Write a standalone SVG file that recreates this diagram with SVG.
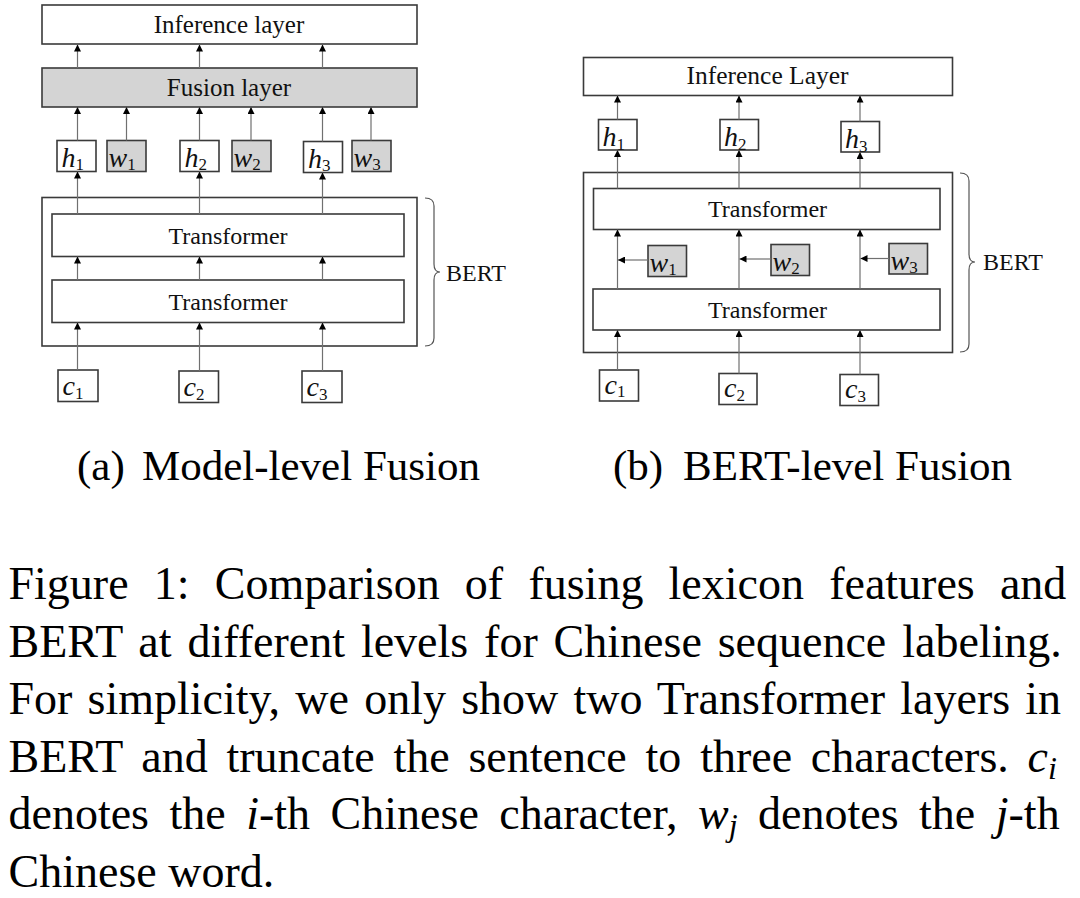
<svg xmlns="http://www.w3.org/2000/svg" width="1080" height="898" viewBox="0 0 1080 898">
<style>
.box{fill:#fff;stroke:#3a3a3a;stroke-width:1.6}
.gbox{fill:#d4d4d4;stroke:#3a3a3a;stroke-width:1.6}
.lbl{font-family:"Liberation Serif","Times New Roman",serif;font-size:24px;fill:#111;text-anchor:middle}
.math{font-family:"Liberation Serif","Times New Roman",serif;font-size:28px;font-style:italic;fill:#111}
.sub{font-size:17px;font-style:normal}
.conn line{stroke:#707070;stroke-width:1.2;marker-end:url(#ah)}
.brace{fill:none;stroke:#555;stroke-width:1.2}
.cap{font-family:"Liberation Serif","Times New Roman",serif;font-size:43px;fill:#000}
.fig{font-family:"Liberation Serif","Times New Roman",serif;font-size:46px;fill:#000}
.it{font-style:italic}
</style>
<defs>
<marker id="ah" viewBox="0 0 8 8" refX="8" refY="4" markerWidth="8" markerHeight="7" markerUnits="userSpaceOnUse" orient="auto">
<path d="M0,0 L8,4 L0,8 z" fill="#000"/>
</marker>
</defs>

<!-- Panel (a) -->
<g id="a-inference"><rect class="box" x="42" y="5" width="375" height="39"/><text class="lbl" x="229" y="33" style="font-size:25px">Inference layer</text></g>
<g id="a-fusion"><rect class="gbox" x="42" y="68" width="375" height="39"/><text class="lbl" x="229" y="96" style="font-size:25px">Fusion layer</text></g>
<g id="a-h1"><rect class="box" x="57" y="140.5" width="39" height="31"/><text class="math" x="61.5" y="166.5">h<tspan class="sub" dy="3.5">1</tspan></text></g>
<g id="a-w1"><rect class="gbox" x="107" y="140.5" width="39" height="31"/><text class="math" x="108.5" y="166.5">w<tspan class="sub" dy="3.5">1</tspan></text></g>
<g id="a-h2"><rect class="box" x="180" y="140.5" width="39" height="31"/><text class="math" x="184.5" y="166.5">h<tspan class="sub" dy="3.5">2</tspan></text></g>
<g id="a-w2"><rect class="gbox" x="232" y="140.5" width="39" height="31"/><text class="math" x="233.5" y="166.5">w<tspan class="sub" dy="3.5">2</tspan></text></g>
<g id="a-h3"><rect class="box" x="303.5" y="141.5" width="39" height="31"/><text class="math" x="308" y="167.5">h<tspan class="sub" dy="3.5">3</tspan></text></g>
<g id="a-w3"><rect class="gbox" x="352" y="140.5" width="39" height="31"/><text class="math" x="353.5" y="166.5">w<tspan class="sub" dy="3.5">3</tspan></text></g>
<g id="a-bert"><rect class="box" x="42" y="197.5" width="375" height="148.5"/></g>
<g id="a-trans2"><rect class="box" x="52" y="214" width="352" height="42.5"/><text class="lbl" x="228" y="244">Transformer</text></g>
<g id="a-trans1"><rect class="box" x="52" y="280" width="352" height="42.5"/><text class="lbl" x="228" y="310">Transformer</text></g>
<g id="a-c1"><rect class="box" x="58" y="370" width="40" height="31.5"/><text class="math" x="62.5" y="395">c<tspan class="sub" dy="3.5">1</tspan></text></g>
<g id="a-c2"><rect class="box" x="179" y="371" width="39.5" height="31.5"/><text class="math" x="183.5" y="396">c<tspan class="sub" dy="3.5">2</tspan></text></g>
<g id="a-c3"><rect class="box" x="302" y="371" width="40" height="31.5"/><text class="math" x="306.5" y="396">c<tspan class="sub" dy="3.5">3</tspan></text></g>
<g id="a-bert-label">
<path class="brace" d="M425,198 Q434,198 434,206 L434,264 Q434,272 440,272 Q434,272 434,280 L434,338 Q434,346 425,346"/>
<text class="lbl" x="446" y="281" style="text-anchor:start">BERT</text>
</g>

<!-- Panel (b) -->
<g id="b-inference"><rect class="box" x="583.5" y="57.5" width="369" height="38"/><text class="lbl" x="767.5" y="84" style="font-size:25.5px">Inference Layer</text></g>
<g id="b-h1"><rect class="box" x="598.5" y="119.5" width="38.5" height="30.5"/><text class="math" x="602.5" y="146">h<tspan class="sub" dy="3.5">1</tspan></text></g>
<g id="b-h2"><rect class="box" x="720" y="119.5" width="38.5" height="30.5"/><text class="math" x="724" y="146">h<tspan class="sub" dy="3.5">2</tspan></text></g>
<g id="b-h3"><rect class="box" x="841" y="121.5" width="38.5" height="30.5"/><text class="math" x="845" y="148">h<tspan class="sub" dy="3.5">3</tspan></text></g>
<g id="b-bert"><rect class="box" x="583.5" y="172.5" width="369" height="180"/></g>
<g id="b-trans2"><rect class="box" x="593.5" y="188.5" width="346.5" height="41"/><text class="lbl" x="767.5" y="217">Transformer</text></g>
<g id="b-w1"><rect class="gbox" x="648" y="245.5" width="38.5" height="31"/><text class="math" x="649.5" y="271.5">w<tspan class="sub" dy="3.5">1</tspan></text></g>
<g id="b-w2"><rect class="gbox" x="771" y="244.5" width="38.5" height="31"/><text class="math" x="772.5" y="270.5">w<tspan class="sub" dy="3.5">2</tspan></text></g>
<g id="b-w3"><rect class="gbox" x="889" y="243.5" width="38.5" height="30.5"/><text class="math" x="890.5" y="269.5">w<tspan class="sub" dy="3.5">3</tspan></text></g>
<g id="b-trans1"><rect class="box" x="593" y="289" width="347" height="41"/><text class="lbl" x="767.5" y="318">Transformer</text></g>
<g id="b-c1"><rect class="box" x="599.5" y="370" width="39" height="31"/><text class="math" x="604.5" y="393.5">c<tspan class="sub" dy="3.5">1</tspan></text></g>
<g id="b-c2"><rect class="box" x="719" y="373.5" width="38" height="31"/><text class="math" x="724" y="397">c<tspan class="sub" dy="3.5">2</tspan></text></g>
<g id="b-c3"><rect class="box" x="840" y="374.5" width="38.5" height="31"/><text class="math" x="845" y="398">c<tspan class="sub" dy="3.5">3</tspan></text></g>
<g id="b-bert-label">
<path class="brace" d="M960,173 Q969,173 969,181 L969,254 Q969,262 975,262 Q969,262 969,270 L969,344 Q969,352 960,352"/>
<text class="lbl" x="983" y="270" style="text-anchor:start">BERT</text>
</g>

<!-- Connectors -->
<g id="connectors" class="conn">
<line x1="77.5" y1="68" x2="77.5" y2="44.5"/>
<line x1="199.5" y1="68" x2="199.5" y2="44.5"/>
<line x1="322.5" y1="68" x2="322.5" y2="44.5"/>
<line x1="77.5" y1="140.5" x2="77.5" y2="107"/>
<line x1="126.5" y1="140.5" x2="126.5" y2="107"/>
<line x1="199.5" y1="140.5" x2="199.5" y2="107"/>
<line x1="251" y1="140.5" x2="251" y2="107"/>
<line x1="322.5" y1="141.5" x2="322.5" y2="107"/>
<line x1="371" y1="140.5" x2="371" y2="107"/>
<line x1="77.5" y1="214" x2="77.5" y2="171.5"/>
<line x1="199.5" y1="214" x2="199.5" y2="171.5"/>
<line x1="322.5" y1="214" x2="322.5" y2="172.5"/>
<line x1="77.5" y1="280" x2="77.5" y2="256.5"/>
<line x1="199.5" y1="280" x2="199.5" y2="256.5"/>
<line x1="322.5" y1="280" x2="322.5" y2="256.5"/>
<line x1="77.5" y1="370" x2="77.5" y2="322.5"/>
<line x1="199.5" y1="371" x2="199.5" y2="322.5"/>
<line x1="322.5" y1="371" x2="322.5" y2="322.5"/>
<line x1="617.5" y1="119.5" x2="617.5" y2="95.5"/>
<line x1="739" y1="119.5" x2="739" y2="95.5"/>
<line x1="860" y1="121.5" x2="860" y2="95.5"/>
<line x1="617.5" y1="188.5" x2="617.5" y2="150"/>
<line x1="739" y1="188.5" x2="739" y2="150"/>
<line x1="860" y1="188.5" x2="860" y2="152"/>
<line x1="617.5" y1="289" x2="617.5" y2="229.5"/>
<line x1="739" y1="289" x2="739" y2="229.5"/>
<line x1="860" y1="289" x2="860" y2="229.5"/>
<line x1="648" y1="260" x2="618" y2="260"/>
<line x1="771" y1="259" x2="739.5" y2="259"/>
<line x1="889" y1="258.5" x2="860.5" y2="258.5"/>
<line x1="617.5" y1="370" x2="617.5" y2="330"/>
<line x1="739" y1="373.5" x2="739" y2="330"/>
<line x1="860" y1="374.5" x2="860" y2="330"/>
</g>

<!-- Sub-captions -->
<text class="cap" x="77" y="480">(a)</text>
<text class="cap" x="142" y="480">Model-level Fusion</text>
<text class="cap" x="613" y="480">(b)</text>
<text class="cap" x="683" y="480">BERT-level Fusion</text>

<!-- Figure caption -->
<text class="fig" x="8.5" y="599" style="word-spacing:13.7px">Figure 1: Comparison of fusing lexicon features and</text>
<text class="fig" x="8.5" y="656.5" style="word-spacing:4.4px">BERT at different levels for Chinese sequence labeling.</text>
<text class="fig" x="8.5" y="714" style="word-spacing:3.7px">For simplicity, we only show two Transformer layers in</text>
<text class="fig" x="8.5" y="771.5" style="word-spacing:7.3px">BERT and truncate the sentence to three characters. <tspan class="it">c</tspan><tspan class="it" font-size="32" dy="7">i</tspan></text>
<text class="fig" x="8.5" y="829" style="word-spacing:9px">denotes the <tspan class="it">i</tspan>-th Chinese character, <tspan class="it">w</tspan><tspan class="it" font-size="32" dy="7">j</tspan><tspan dy="-7"> denotes the </tspan><tspan class="it">j</tspan>-th</text>
<text class="fig" x="8.5" y="886.5">Chinese word.</text>
</svg>
